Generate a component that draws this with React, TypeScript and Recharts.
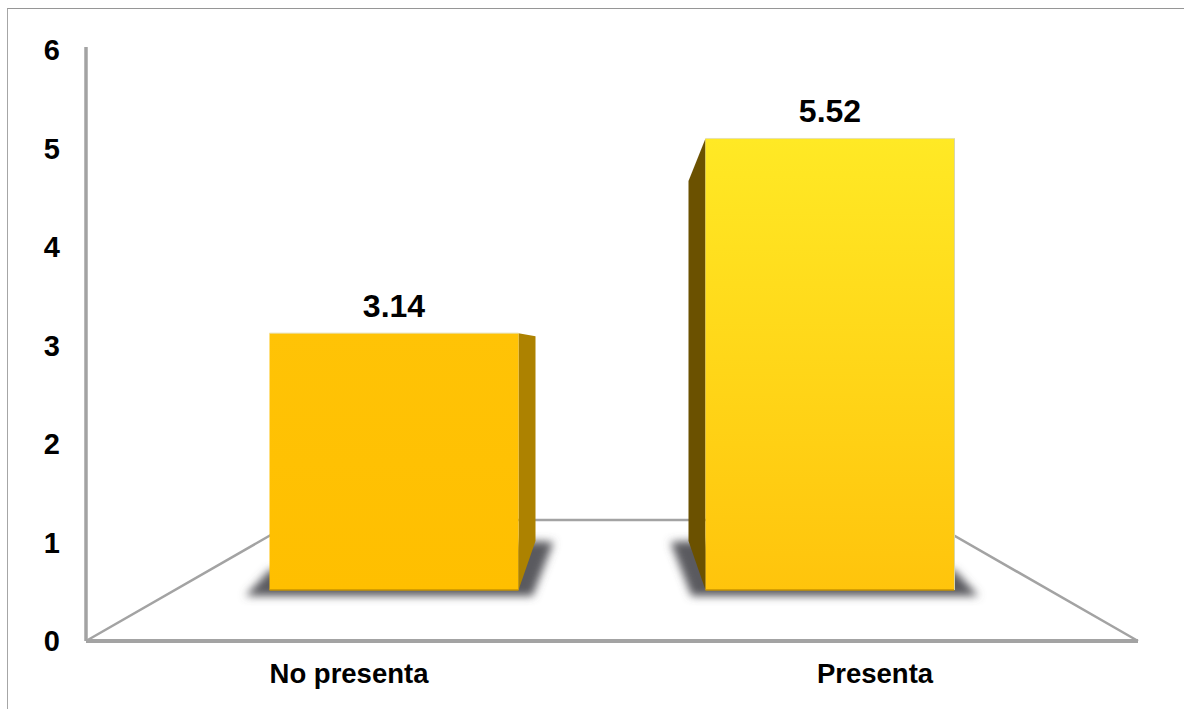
import React from 'react';
import { BarChart, Bar, XAxis, YAxis, LabelList } from 'recharts';

const categories = ['No presenta', 'Presenta'];
const values = [3.14, 5.52];
const yTicks = [0, 1, 2, 3, 4, 5, 6];

const data = categories.map((name, i) => ({ name, value: values[i] }));

const FONT = '"Liberation Sans", Arial, sans-serif';
const AXIS_GREY = '#a3a3a3';

// per-bar look: front gradient stops, side face colour, which side the depth shows on
const barFaces = [
  { top: '#ffc306', bottom: '#ffbf00', side: '#ad8200', dir: 1 },
  { top: '#ffe925', bottom: '#ffc40c', side: '#6b5100', dir: -1 },
];

// depth of the 3D bars
const DEPTH = 17;
const BACK_RISE = 49;
const PERSPECTIVE = 0.203;

function Bar3D(props: any) {
  const { x, y, width, height, index } = props;
  const face = barFaces[index];
  const bottom = y + height;
  const nearX = face.dir > 0 ? x + width : x;
  const backX = nearX + face.dir * DEPTH;
  const backTop = y - BACK_RISE + PERSPECTIVE * height;
  const backBottom = bottom - BACK_RISE;
  const farX = face.dir > 0 ? x : x + width;
  const shadow = [
    [farX - face.dir * 24, bottom + 6],
    [nearX + face.dir * 14, bottom + 6],
    [backX + face.dir * 18, backBottom + 1],
    [backX, backBottom],
    [farX, bottom - 20],
  ]
    .map((p) => p.join(','))
    .join(' ');

  return (
    <g>
      <polygon points={shadow} fill="#5a5a5f" filter="url(#floorShadow)" />
      <polygon
        points={`${nearX},${y} ${backX},${backTop} ${backX},${backBottom} ${nearX},${bottom}`}
        fill={face.side}
      />
      <rect x={x} y={y} width={width} height={height} fill={`url(#front${index})`} />
      <line x1={x} x2={x + width} y1={y} y2={y} stroke="#e6e0b0" strokeWidth={1} />
      <line x1={x} x2={x + width} y1={bottom} y2={bottom} stroke="#c79300" strokeWidth={1.5} />
      {face.dir < 0 && (
        <line x1={x + width} x2={x + width} y1={y} y2={bottom} stroke="#d9d6a8" strokeWidth={1} />
      )}
    </g>
  );
}

// floor of the 3D plot, sits behind the bars
function Floor() {
  return (
    <polyline
      points="86,641 297,520 927,520 1138,641"
      fill="none"
      stroke={AXIS_GREY}
      strokeWidth={2.5}
    />
  );
}

export default function App() {
  return (
    <div style={{ position: 'absolute', left: 0, top: 0, width: 1184, height: 709, overflow: 'hidden', background: '#fff' }}>
      <div
        style={{
          position: 'absolute',
          left: 7,
          top: 8,
          width: 1177,
          height: 720,
          borderLeft: '1.5px solid #a6a6a6',
          borderTop: '1.5px solid #969696',
        }}
      />
      <div style={{ position: 'absolute', left: 0, top: 0 }}>
        <BarChart
          width={1184}
          height={709}
          data={data}
          margin={{ top: 47, right: 46, bottom: 8, left: 26 }}
          barSize={249}
        >
          <defs>
            {barFaces.map((face, i) => (
              <linearGradient key={i} id={`front${i}`} x1="0" y1="0" x2="0" y2="1">
                <stop offset="0%" stopColor={face.top} />
                <stop offset="100%" stopColor={face.bottom} />
              </linearGradient>
            ))}
            <filter id="floorShadow" x="-20%" y="-40%" width="140%" height="180%">
              <feGaussianBlur stdDeviation="4" />
            </filter>
          </defs>
          <Floor />
          <XAxis
            xAxisId="front"
            dataKey="name"
            height={60}
            tickLine={false}
            tickMargin={16}
            axisLine={{ stroke: AXIS_GREY, strokeWidth: 4 }}
            tick={{ fontFamily: FONT, fontSize: 27.5, fontWeight: 700, fill: '#000' }}
          />
          <YAxis
            yAxisId="front"
            width={60}
            domain={[0, 6.03]}
            ticks={yTicks}
            allowDataOverflow
            tickLine={false}
            tickMargin={20}
            axisLine={{ stroke: AXIS_GREY, strokeWidth: 3.5 }}
            tick={{ fontFamily: FONT, fontSize: 29, fontWeight: 700, fill: '#000' }}
          />
          {/* bars stand on the raised floor plane, so they get their own scales */}
          <XAxis xAxisId="bars" dataKey="name" hide height={0} padding={{ left: 89.5, right: 90.5 }} />
          <YAxis yAxisId="bars" hide width={0} domain={[-0.6235, 6.638]} allowDataOverflow />
          <Bar
            xAxisId="bars"
            yAxisId="bars"
            dataKey="value"
            isAnimationActive={false}
            shape={Bar3D}
          >
            <LabelList
              dataKey="value"
              position="top"
              offset={16}
              style={{ fontFamily: FONT, fontSize: 32, fontWeight: 700, fill: '#000' }}
            />
          </Bar>
        </BarChart>
      </div>
    </div>
  );
}
